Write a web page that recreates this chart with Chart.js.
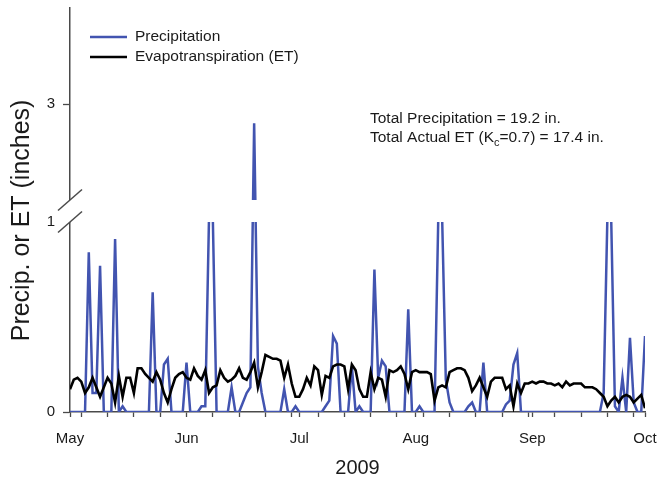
<!DOCTYPE html>
<html>
<head>
<meta charset="utf-8">
<script src="https://cdn.jsdelivr.net/npm/chart.js@4.4.1/dist/chart.umd.min.js"></script>
<style>
  html, body { margin: 0; padding: 0; background: #fff; }
  #wrap { width: 661px; height: 480px; }
</style>
</head>
<body>
<div id="wrap"><canvas id="grafico" width="661" height="480"></canvas></div>
<script>
// daily values, day 0 = May 1 2009 ... day 153 = Oct 1 2009 (inches)
const precipitation = [
  0, 0, 0, 0, 0, 0.84, 0.10, 0.10, 0.77, 0,
  0, 0, 0.91, 0, 0.03, 0, 0, 0, 0, 0,
  0, 0, 0.63, 0, 0, 0.25, 0.28, 0, 0, 0,
  0, 0.26, 0, 0, 0, 0.03, 0.03, 1.30, 1.20, 0,
  0, 0, 0, 0.13, 0, 0, 0.05, 0.10, 0.13, 2.80,
  0.24, 0.10, 0, 0, 0, 0, 0, 0.12, 0, 0,
  0.03, 0, 0, 0, 0, 0, 0, 0, 0.03, 0.06,
  0.40, 0.36, 0, 0, 0, 0.24, 0, 0.03, 0, 0,
  0, 0.75, 0.18, 0.27, 0.24, 0, 0, 0, 0, 0,
  0.54, 0, 0, 0.03, 0, 0, 0, 0, 1.25, 1.35,
  0.17, 0.05, 0, 0, 0, 0, 0.03, 0.05, 0, 0,
  0.26, 0, 0, 0, 0, 0, 0.04, 0.06, 0.25, 0.31,
  0, 0, 0, 0, 0, 0, 0, 0, 0, 0,
  0, 0, 0, 0, 0, 0, 0, 0, 0, 0,
  0, 0, 0.10, 1.30, 1.20, 0.03, 0, 0.18, 0, 0.39,
  0.05, 0, 0, 0.40
];
const evapotranspiration = [
  0.12, 0.17, 0.18, 0.16, 0.10, 0.13, 0.18, 0.13, 0.08, 0.13,
  0.18, 0.15, 0.05, 0.19, 0.08, 0.18, 0.18, 0.10, 0.23, 0.23,
  0.20, 0.18, 0.16, 0.21, 0.17, 0.10, 0.05, 0.12, 0.18, 0.20,
  0.21, 0.18, 0.17, 0.23, 0.19, 0.17, 0.22, 0.10, 0.13, 0.14,
  0.22, 0.18, 0.16, 0.17, 0.19, 0.23, 0.18, 0.17, 0.21, 0.26,
  0.13, 0.21, 0.30, 0.29, 0.28, 0.28, 0.27, 0.18, 0.25, 0.15,
  0.08, 0.08, 0.12, 0.18, 0.14, 0.24, 0.22, 0.09, 0.19, 0.18,
  0.24, 0.25, 0.25, 0.24, 0.12, 0.25, 0.22, 0.12, 0.08, 0.08,
  0.21, 0.12, 0.18, 0.17, 0.08, 0.22, 0.21, 0.22, 0.24, 0.20,
  0.12, 0.21, 0.22, 0.21, 0.21, 0.21, 0.20, 0.06, 0.13, 0.14,
  0.13, 0.21, 0.22, 0.23, 0.23, 0.22, 0.18, 0.11, 0.14, 0.18,
  0.13, 0.08, 0.16, 0.18, 0.18, 0.18, 0.12, 0.14, 0.03, 0.15,
  0.10, 0.15, 0.15, 0.16, 0.15, 0.16, 0.16, 0.15, 0.15, 0.14,
  0.15, 0.13, 0.16, 0.14, 0.15, 0.15, 0.15, 0.13, 0.13, 0.13,
  0.12, 0.10, 0.08, 0.03, 0.06, 0.08, 0.05, 0.08, 0.09, 0.08,
  0.05, 0.07, 0.09, 0.02
];
const seriesNames = ["Precipitation", "Evapotranspiration (ET)"];
const monthLabels = ["May", "Jun", "Jul", "Aug", "Sep", "Oct"];
const monthStarts = [0, 31, 61, 92, 123, 153];
const mondays = [3, 10, 17, 24, 38, 45, 52, 59, 66, 73, 80, 87, 94, 101, 108, 115, 122, 129, 136, 143, 150];
const yTickValues = [0, 1, 3];
const yTickLabels = ["0", "1", "3"];
const xTitle = "2009";
const yTitle = "Precip. or ET (inches)";
const noteLine1 = "Total Precipitation = 19.2 in.";
const noteLine2 = ["Total Actual ET (K", "c", "=0.7) = 17.4 in."];

// broken y axis: 0-1 full size, 1-2 squeezed into the gap, 2-4 at half size
const breakLow = 1, breakHigh = 2, axisTop = 4;
const gapFactor = 22 / 190;
const upperFactor = 96 / 190;
function brk(v) {
  if (v <= breakLow) return v;
  if (v <= breakHigh) return breakLow + (v - breakLow) * gapFactor;
  return breakLow + (breakHigh - breakLow) * gapFactor + (v - breakHigh) * upperFactor;
}

const FONT = "'Liberation Sans', Arial, Helvetica, sans-serif";
const BLUE = "#4254b0";
const AXIS = "#4a4a4a";

const toPoints = arr => arr.map((v, i) => ({ x: i, y: brk(v) }));

// the scales ask for extra room for their end labels; the layout padding handles it here
const noEdgePadding = scale => {
  scale.paddingTop = 0;
  scale.paddingBottom = 0;
  scale.paddingLeft = 0;
  scale.paddingRight = 0;
};

// break marks, gap, legend and notes
const extras = {
  id: "extras",
  afterDatasetsDraw(chart) {
    const ctx = chart.ctx;
    const area = chart.chartArea;
    const y = chart.scales.y;
    const yLow = y.getPixelForValue(brk(breakLow));
    const yHigh = y.getPixelForValue(brk(breakHigh));
    ctx.save();
    ctx.fillStyle = "#fff";
    ctx.fillRect(area.left - 3, yHigh, area.right - area.left + 3, yLow - yHigh);
    ctx.strokeStyle = AXIS;
    ctx.lineWidth = 1.5;
    [yLow, yHigh].forEach(py => {
      ctx.beginPath();
      ctx.moveTo(area.left - 12, py + 10.5);
      ctx.lineTo(area.left + 12, py - 10.5);
      ctx.stroke();
    });

    // legend
    ctx.font = "15.5px " + FONT;
    ctx.textBaseline = "middle";
    ctx.fillStyle = "#1a1a1a";
    chart.data.datasets.forEach((ds, i) => {
      const ly = area.top + 29 + i * 20;
      ctx.strokeStyle = ds.borderColor;
      ctx.lineWidth = ds.borderWidth;
      ctx.beginPath();
      ctx.moveTo(area.left + 20, ly);
      ctx.lineTo(area.left + 57, ly);
      ctx.stroke();
      ctx.fillText(ds.label, area.left + 65, ly);
    });

    // totals
    const nx = 370;
    ctx.fillText(noteLine1, nx, 119);
    let cx = nx;
    ctx.fillText(noteLine2[0], cx, 138);
    cx += ctx.measureText(noteLine2[0]).width;
    ctx.font = "11px " + FONT;
    ctx.fillText(noteLine2[1], cx, 143);
    cx += ctx.measureText(noteLine2[1]).width;
    ctx.font = "15.5px " + FONT;
    ctx.fillText(noteLine2[2], cx, 138);
    ctx.restore();
  }
};

new Chart(document.getElementById("grafico"), {
  type: "line",
  data: {
    datasets: [
      {
        label: seriesNames[0],
        data: toPoints(precipitation),
        borderColor: BLUE,
        borderWidth: 2.5,
        pointRadius: 0,
        tension: 0,
        order: 2
      },
      {
        label: seriesNames[1],
        data: toPoints(evapotranspiration),
        borderColor: "#000",
        borderWidth: 2.6,
        pointRadius: 0,
        tension: 0,
        order: 1
      }
    ]
  },
  options: {
    responsive: false,
    animation: false,
    devicePixelRatio: 1,
    layout: { padding: { top: 8, right: 16, bottom: 0, left: 0 } },
    plugins: {
      legend: { display: false },
      tooltip: { enabled: false }
    },
    scales: {
      x: {
        type: "linear",
        min: 0,
        max: 153,
        afterBuildTicks: scale => {
          scale.ticks = monthStarts.concat(mondays).sort((a, b) => a - b).map(v => ({ value: v }));
        },
        afterFit: scale => {
          scale.height = 68;
          noEdgePadding(scale);
        },
        ticks: {
          autoSkip: false,
          maxRotation: 0,
          padding: 13,
          color: "#1a1a1a",
          font: { family: FONT, size: 15 },
          callback: v => {
            const k = monthStarts.indexOf(v);
            return k >= 0 ? monthLabels[k] : "";
          }
        },
        grid: {
          drawOnChartArea: false,
          drawTicks: true,
          tickLength: 5,
          tickColor: AXIS,
          tickWidth: 1.3
        },
        border: { display: true, color: AXIS, width: 1.5 },
        title: {
          display: true,
          text: xTitle,
          color: "#1a1a1a",
          font: { family: FONT, size: 20 },
          padding: { top: 0, bottom: 0 }
        }
      },
      y: {
        type: "linear",
        min: 0,
        max: brk(axisTop),
        afterBuildTicks: scale => {
          scale.ticks = yTickValues.map(v => ({ value: brk(v) }));
        },
        afterFit: scale => {
          scale.width = 70;
          noEdgePadding(scale);
        },
        ticks: {
          autoSkip: false,
          padding: 8,
          color: "#1a1a1a",
          font: { family: FONT, size: 15 },
          callback: v => {
            const k = yTickValues.findIndex(t => Math.abs(brk(t) - v) < 1e-6);
            return k >= 0 ? yTickLabels[k] : "";
          }
        },
        grid: {
          drawOnChartArea: false,
          drawTicks: true,
          tickLength: 7,
          tickWidth: 1.3,
          tickColor: c => (Math.abs(c.tick.value - brk(breakLow)) < 1e-6 ? "rgba(0,0,0,0)" : AXIS)
        },
        border: { display: true, color: AXIS, width: 1.5 },
        title: {
          display: true,
          // trailing spaces push the centred title a little below the middle, as in the original
          text: yTitle + "\u00a0\u00a0\u00a0",
          color: "#1a1a1a",
          font: { family: FONT, size: 25 },
          padding: { top: 7, bottom: 0 }
        }
      }
    }
  },
  plugins: [extras]
});
</script>
</body>
</html>
